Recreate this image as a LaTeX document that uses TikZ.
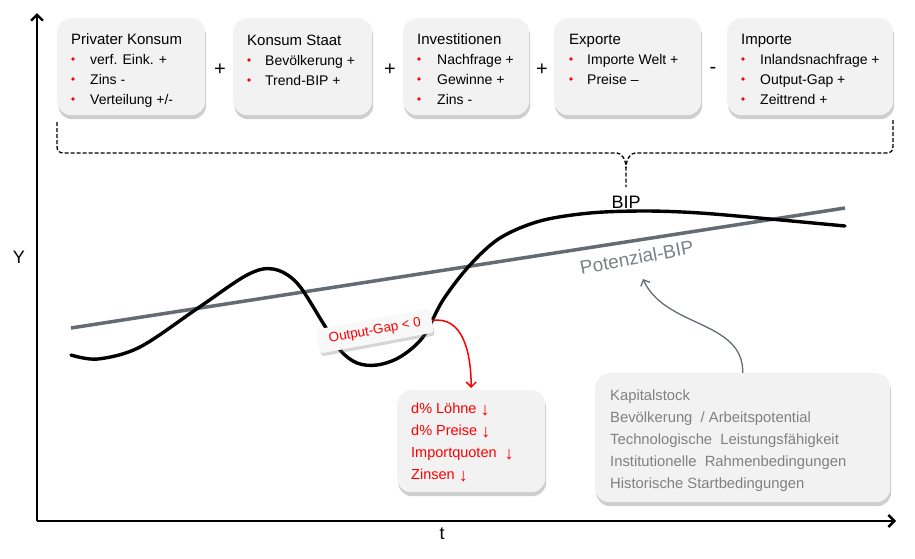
\documentclass[tikz,border=0pt]{standalone}
\usepackage{fontspec}
\setmainfont{Liberation Sans}
\usetikzlibrary{shadows,arrows.meta}
\definecolor{boxfill}{HTML}{F2F2F2}
\definecolor{potgray}{HTML}{646B72}
\definecolor{txtgray}{HTML}{808080}
\definecolor{bred}{HTML}{FF0000}
\newcommand{\dnarrow}{\raisebox{-2.5pt}{\fontsize{18}{18}\selectfont ↓}}
\begin{document}
\begin{tikzpicture}[x=1pt,y=-1pt,
  box/.style={draw=none, fill=boxfill, rounded corners=14pt, inner sep=0pt, anchor=north west,
    drop shadow={shadow xshift=1pt, shadow yshift=-4pt, opacity=0.35, fill=black!55}},
  titletxt/.style={anchor=base west, font=\fontsize{15}{18}\selectfont, inner sep=0pt},
  itemtxt/.style={anchor=base west, font=\fontsize{14}{17}\selectfont, inner sep=0pt},
  bul/.style={circle, fill=bred, inner sep=0pt, minimum size=3.6pt},
  optxt/.style={font=\fontsize{20}{22}\selectfont, inner sep=0pt},
  axis/.style={line width=2.6pt, -{Straight Barb[length=6pt,width=12pt,line width=2.4pt]}},
  redtxt/.style={anchor=base west, font=\fontsize{14.5}{17}\selectfont, text=bred, inner sep=0pt},
  graytxt/.style={anchor=base west, font=\fontsize{14.8}{17}\selectfont, text=txtgray, inner sep=0pt},
]
\useasboundingbox (0,0) rectangle (915,558);

% axes
\coordinate (origin) at (37,521);
\coordinate (ytop) at (37,13);
\coordinate (xend) at (896,521);
\draw[axis] (origin) -- (ytop);
\draw[axis] (origin) -- (xend);
\node[font=\fontsize{18}{20}\selectfont, inner sep=0pt] (ylab) at (19,257) {Y};
\node[font=\fontsize{18}{20}\selectfont, inner sep=0pt] (tlab) at (442,534) {t};

% top boxes
\node[box, minimum width=148pt, minimum height=97pt] (b1) at (57,18) {};
\node[box, minimum width=139pt, minimum height=97pt] (b2) at (233,18) {};
\node[box, minimum width=126pt, minimum height=97pt] (b3) at (403,18) {};
\node[box, minimum width=147pt, minimum height=97pt] (b4) at (554,18) {};
\node[box, minimum width=166pt, minimum height=97pt] (b5) at (727,18) {};

\node[titletxt] (b1t) at (71,44) {Privater Konsum};
\foreach \t [count=\i] in {{verf. Eink. +},{Zins -},{Verteilung +/-}} {
  \node[bul] (b1d\i) at (73,39+20*\i) {};
  \node[itemtxt] (b1i\i) at (90,44+20*\i) {\t};
}
\node[titletxt] (b2t) at (247,45) {Konsum Staat};
\foreach \t [count=\i] in {{Bevölkerung +},{Trend-BIP +}} {
  \node[bul] (b2d\i) at (249,40+20*\i) {};
  \node[itemtxt] (b2i\i) at (265,45+20*\i) {\t};
}
\node[titletxt] (b3t) at (417,44) {Investitionen};
\foreach \t [count=\i] in {{Nachfrage +},{Gewinne +},{Zins -}} {
  \node[bul] (b3d\i) at (419,39+20*\i) {};
  \node[itemtxt] (b3i\i) at (437,44+20*\i) {\t};
}
\node[titletxt] (b4t) at (569,44) {Exporte};
\foreach \t [count=\i] in {{Importe Welt +},{Preise –}} {
  \node[bul] (b4d\i) at (571,39+20*\i) {};
  \node[itemtxt] (b4i\i) at (587,44+20*\i) {\t};
}
\node[titletxt] (b5t) at (741,44) {Importe};
\foreach \t [count=\i] in {{Inlandsnachfrage +},{Output-Gap +},{Zeittrend +}} {
  \node[bul] (b5d\i) at (743,39+20*\i) {};
  \node[itemtxt] (b5i\i) at (760,44+20*\i) {\t};
}

% operators
\node[optxt] (op1) at (220,70) {+};
\node[optxt] (op2) at (390,70) {+};
\node[optxt] (op3) at (542,70) {+};
\node[optxt] (op4) at (713,70) {-};

% dashed brace
\draw[dash pattern=on 4pt off 2pt, line width=1.3pt]
  (57,122) -- (57,146) .. controls (57,151) and (59,153) .. (64,153) -- (617,153)
  .. controls (622,153) and (626,160) .. (626,168);
\draw[dash pattern=on 4pt off 2pt, line width=1.3pt]
  (893,120) -- (893,146) .. controls (893,151) and (891,153) .. (886,153) -- (635,153)
  .. controls (630,153) and (626,160) .. (626,168) -- (626,187);
\node[anchor=base, font=\fontsize{18}{20}\selectfont, inner sep=0pt] (biplab) at (626,208) {BIP};

% potential line
\coordinate (p0) at (71,328);
\coordinate (p1) at (845,208);
\draw[potgray, line width=3.5pt] (p0) -- (p1);
\node[anchor=base, rotate=10.5, font=\fontsize{19}{21}\selectfont, text=potgray!85, inner sep=0pt] (potlab) at (638,264) {Potenzial-BIP};

% BIP curve
\draw[line width=3.4pt, line cap=round] plot[smooth, tension=0.55] coordinates {
  (71,355) (98,359) (140,347) (198,308) (247,275) (273,269) (297,283) (323,323)
  (340,350) (357,363) (377,365) (400,357) (423,337) (443,300) (470,265) (500,238)
  (540,221) (590,213) (645,211) (700,213) (770,219) (845,226)};

% output gap label
\node[rotate=10.5, fill=boxfill!50, rounded corners=3pt, inner xsep=11pt, inner ysep=6pt,
  drop shadow={shadow xshift=1pt, shadow yshift=-3pt, opacity=0.3, fill=black!55},
  text=bred, font=\fontsize{13.5}{16}\selectfont] (og) at (375,331) {Output-Gap < 0};

% red box
\node[box, minimum width=148pt, minimum height=102pt] (rb) at (397,390) {};
\node[redtxt] (r1) at (411,413) {d\% Löhne \dnarrow};
\node[redtxt] (r2) at (411,435) {d\% Preise \dnarrow};
\node[redtxt] (r3) at (411,457) {Importquoten\ \ \dnarrow};
\node[redtxt] (r4) at (411,479) {Zinsen \dnarrow};
\draw[bred, line width=1.5pt, -{Straight Barb[length=5pt,width=10pt,line width=1.5pt]}]
  (og.east) .. controls (462,316) and (471,350) .. ([yshift=2pt]rb.north);

% gray box
\node[box, minimum width=295pt, minimum height=129pt] (gb) at (595,373) {};
\node[graytxt] (g1) at (610,400) {Kapitalstock};
\node[graytxt] (g2) at (610,422) {Bevölkerung\ \ / Arbeitspotential};
\node[graytxt] (g3) at (610,444) {Technologische\ \ Leistungsfähigkeit};
\node[graytxt] (g4) at (610,466) {Institutionelle\ \ Rahmenbedingungen};
\node[graytxt] (g5) at (610,488) {Historische Startbedingungen};
\coordinate (pbtip) at (643,279);
\draw[potgray, line width=1.3pt, -{Straight Barb[length=5pt,width=10pt,line width=1.3pt]}]
  (gb.north) .. controls (744,320) and (665,328) .. (pbtip);
\end{tikzpicture}
\end{document}
